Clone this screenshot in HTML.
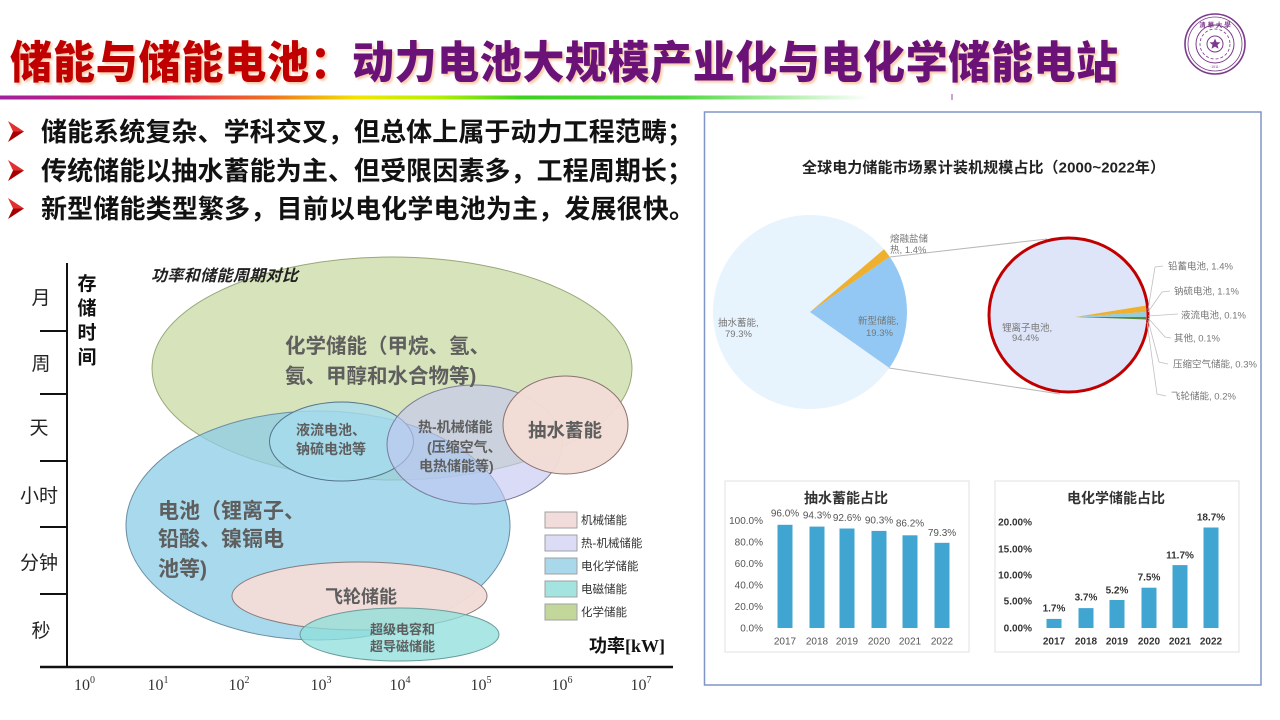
<!DOCTYPE html>
<html><head><meta charset="utf-8">
<style>
html,body{margin:0;padding:0;background:#fff;}
body{width:1280px;height:720px;overflow:hidden;}
svg{display:block;}
text{font-family:"Liberation Sans","Noto Sans CJK SC",sans-serif;}
.serif{font-family:"Liberation Serif","Noto Serif CJK SC",serif;}
.ttl{font-weight:900;font-size:42px;filter:drop-shadow(2px 2px 1px rgba(235,160,100,0.55));}
.bul{font-weight:700;font-size:26px;fill:#111;}
.in{fill:#5e5e5e;font-weight:700;}
.pl{font-size:9.5px;fill:#777;}
.bl{font-size:10px;fill:#555;}
.bb{font-size:10px;fill:#333;font-weight:700;}
</style></head>
<body>
<svg width="1280" height="720" viewBox="0 0 1280 720" xmlns="http://www.w3.org/2000/svg">
<defs>
<linearGradient id="rb" x1="0" y1="0" x2="1" y2="0">
<stop offset="0" stop-color="#a020a0"/>
<stop offset="0.18" stop-color="#e0185a"/>
<stop offset="0.31" stop-color="#f07020"/>
<stop offset="0.41" stop-color="#f2e400"/>
<stop offset="0.5" stop-color="#b8f000"/>
<stop offset="0.6" stop-color="#3cd020"/>
<stop offset="0.78" stop-color="#50d840"/>
<stop offset="1" stop-color="#ffffff"/>
</linearGradient>
</defs>

<!-- Title -->
<g transform="translate(0,78) scale(1,1.06) translate(0,-78)">
<text class="ttl" x="10" y="78" fill="#c00000" textLength="342" lengthAdjust="spacing">储能与储能电池：</text>
<text class="ttl" x="352" y="78" fill="#6a1278" textLength="766" lengthAdjust="spacing">动力电池大规模产业化与电化学储能电站</text>
</g>

<!-- rainbow line -->
<rect x="0" y="95.5" width="870" height="4" fill="url(#rb)"/>
<line x1="952" y1="94" x2="952" y2="100" stroke="#a040a0" stroke-width="1"/>

<!-- Logo -->
<g fill="none" stroke="#7b3a8c">
<circle cx="1215" cy="44" r="30" stroke-width="1.6"/>
<circle cx="1215" cy="44" r="27" stroke-width="0.8"/>
<circle cx="1215" cy="44" r="19" stroke-width="1"/>
<circle cx="1215" cy="44" r="15" stroke-width="0.8" stroke-dasharray="3 2"/>
<circle cx="1215" cy="44" r="8" stroke-width="1"/>
</g>
<polygon points="1215,38.5 1216.6,42.2 1220.5,42.4 1217.5,44.9 1218.5,48.7 1215,46.6 1211.5,48.7 1212.5,44.9 1209.5,42.4 1213.4,42.2" fill="#7b3a8c"/>
<text x="1215" y="27" text-anchor="middle" font-size="6.5" fill="#7b3a8c" font-weight="700">清 華 大 學</text>
<text x="1215" y="68" text-anchor="middle" font-size="3.5" fill="#7b3a8c">·1911·</text>

<!-- Bullets -->
<g>
<polygon points="8,121 24,131.5 13,131.5" fill="#e23030"/>
<polygon points="13,131.5 24,131.5 8,142" fill="#a80000"/>
<polygon points="8,160 24,170.5 13,170.5" fill="#e23030"/>
<polygon points="13,170.5 24,170.5 8,181" fill="#a80000"/>
<polygon points="8,198 24,208.5 13,208.5" fill="#e23030"/>
<polygon points="13,208.5 24,208.5 8,219" fill="#a80000"/>
</g>
<text class="bul" x="41" y="141" textLength="652" lengthAdjust="spacing">储能系统复杂、学科交叉，但总体上属于动力工程范畴；</text>
<text class="bul" x="41" y="180" textLength="652" lengthAdjust="spacing">传统储能以抽水蓄能为主、但受限因素多，工程周期长；</text>
<text class="bul" x="41" y="218" textLength="654" lengthAdjust="spacing">新型储能类型繁多，目前以电化学电池为主，发展很快。</text>

<!-- ============ LEFT CHART ============ -->
<g>
<ellipse cx="392" cy="368.5" rx="240" ry="111.5" fill="#c4d79b" fill-opacity="0.68" stroke="#98a878" stroke-width="1"/>
<ellipse cx="318" cy="525.5" rx="192" ry="114.5" fill="#8ccce6" fill-opacity="0.75" stroke="#6a8ea4" stroke-width="1"/>
<ellipse cx="341.5" cy="441.5" rx="72" ry="39.5" fill="#a6dcef" fill-opacity="0.8" stroke="#54748a" stroke-width="1"/>
<ellipse cx="474.5" cy="444.5" rx="87.5" ry="59.5" fill="#c4c6f2" fill-opacity="0.62" stroke="#7a7c98" stroke-width="1"/>
<ellipse cx="565.5" cy="425" rx="62.5" ry="49" fill="#f2dcd6" fill-opacity="0.97" stroke="#8a7070" stroke-width="1"/>
<ellipse cx="359.5" cy="596" rx="127.5" ry="34" fill="#f2dcd6" fill-opacity="0.96" stroke="#8a7a7a" stroke-width="1"/>
<ellipse cx="399.5" cy="634.5" rx="99.5" ry="26.5" fill="#8edfdb" fill-opacity="0.75" stroke="#6a9a9a" stroke-width="1"/>
</g>

<text class="in" x="285" y="353" font-size="20.5">化学储能（甲烷、氢、</text>
<text class="in" x="285" y="383" font-size="20.5">氨、甲醇和水合物等)</text>
<text class="in" x="296" y="435" font-size="14">液流电池、</text>
<text class="in" x="296" y="454" font-size="14">钠硫电池等</text>
<text class="in" x="418" y="432" font-size="14">热-机械储能</text>
<text class="in" x="427" y="452" font-size="14">(压缩空气、</text>
<text class="in" x="419" y="471" font-size="14">电热储能等)</text>
<text class="in" x="528" y="437" font-size="18.5">抽水蓄能</text>
<text class="in" x="158" y="518" font-size="21">电池（锂离子、</text>
<text class="in" x="158" y="546" font-size="21">铅酸、镍镉电</text>
<text class="in" x="158" y="576" font-size="21">池等)</text>
<text class="in" x="325" y="603" font-size="18">飞轮储能</text>
<text class="in" x="370" y="634" font-size="13">超级电容和</text>
<text class="in" x="370" y="651" font-size="13">超导磁储能</text>

<!-- axes -->
<line x1="67" y1="263" x2="67" y2="667" stroke="#111" stroke-width="2"/>
<line x1="40" y1="667" x2="673" y2="667" stroke="#111" stroke-width="2.5"/>
<g stroke="#111" stroke-width="2">
<line x1="40" y1="331" x2="67" y2="331"/>
<line x1="40" y1="394" x2="67" y2="394"/>
<line x1="40" y1="461" x2="67" y2="461"/>
<line x1="40" y1="527" x2="67" y2="527"/>
<line x1="40" y1="594" x2="67" y2="594"/>
</g>
<g font-size="19" fill="#222" text-anchor="middle">
<text x="41" y="304">月</text>
<text x="41" y="370">周</text>
<text x="39" y="434">天</text>
<text x="39" y="502">小时</text>
<text x="39" y="569">分钟</text>
<text x="41" y="637">秒</text>
</g>
<g font-size="19" font-weight="700" fill="#111" text-anchor="middle">
<text x="87" y="290">存</text>
<text x="87" y="314.5">储</text>
<text x="87" y="339">时</text>
<text x="87" y="363.5">间</text>
</g>
<text x="151" y="281" font-size="16" font-style="italic" font-weight="700" fill="#222" textLength="147" lengthAdjust="spacing">功率和储能周期对比</text>

<g class="serif" font-size="16" fill="#333" text-anchor="middle">
<text class="serif" x="84.5" y="690">10<tspan font-size="10" dy="-7">0</tspan></text>
<text class="serif" x="158" y="690">10<tspan font-size="10" dy="-7">1</tspan></text>
<text class="serif" x="239" y="690">10<tspan font-size="10" dy="-7">2</tspan></text>
<text class="serif" x="321" y="690">10<tspan font-size="10" dy="-7">3</tspan></text>
<text class="serif" x="400" y="690">10<tspan font-size="10" dy="-7">4</tspan></text>
<text class="serif" x="481" y="690">10<tspan font-size="10" dy="-7">5</tspan></text>
<text class="serif" x="562" y="690">10<tspan font-size="10" dy="-7">6</tspan></text>
<text class="serif" x="641" y="690">10<tspan font-size="10" dy="-7">7</tspan></text>
</g>
<text x="589" y="652" font-size="18" font-weight="700" fill="#111">功率<tspan class="serif" style="font-family:'Liberation Serif',serif">[kW]</tspan></text>

<!-- legend -->
<g stroke="#a0a0a0" stroke-width="1">
<rect x="545" y="512" width="32" height="16" fill="#f2dcdb"/>
<rect x="545" y="535" width="32" height="16" fill="#dcdcf6"/>
<rect x="545" y="558" width="32" height="16" fill="#a9d8ea"/>
<rect x="545" y="581" width="32" height="16" fill="#a4e4e0"/>
<rect x="545" y="604" width="32" height="16" fill="#c4d79b"/>
</g>
<g font-size="11.5" fill="#333">
<text x="581" y="524">机械储能</text>
<text x="581" y="547">热-机械储能</text>
<text x="581" y="570">电化学储能</text>
<text x="581" y="593">电磁储能</text>
<text x="581" y="616">化学储能</text>
</g>

<!-- ============ RIGHT PANEL ============ -->
<rect x="704.5" y="112" width="556.5" height="573" fill="#fff" stroke="#7f96c6" stroke-width="1.5"/>
<text x="802" y="172.5" font-size="15" font-weight="700" fill="#222" textLength="363" lengthAdjust="spacing">全球电力储能市场累计装机规模占比（2000~2022年）</text>

<!-- left pie -->
<circle cx="810" cy="312" r="97" fill="#e7f3fd"/>
<path d="M810,312 L889.7,256.8 A97,97 0 0,1 889.3,367.9 Z" fill="#92c8f3"/>
<path d="M810,312 L884,249.3 A97,97 0 0,1 889.7,256.8 Z" fill="#efb030"/>
<line x1="890" y1="257" x2="1047" y2="239" stroke="#b8b8b8" stroke-width="1"/>
<line x1="889" y1="368" x2="1060" y2="394" stroke="#b8b8b8" stroke-width="1"/>
<text class="pl" x="890" y="242">熔融盐储</text>
<text class="pl" x="890" y="253">热, 1.4%</text>
<text class="pl" x="718" y="326">抽水蓄能,</text>
<text class="pl" x="725" y="337">79.3%</text>
<text class="pl" x="858" y="324">新型储能,</text>
<text class="pl" x="866" y="336">19.3%</text>

<!-- right pie -->
<ellipse cx="1068.5" cy="315" rx="79.5" ry="77" fill="#dfe5f8"/>
<polygon points="1075,317 1146,305.5 1146,312" fill="#efb030"/>
<polygon points="1075,317 1146,312 1146,317" fill="#92cde0"/>
<polygon points="1075,317 1146,317 1146,319.5" fill="#5a8a3a"/>
<ellipse cx="1068.5" cy="315" rx="79.5" ry="77" fill="none" stroke="#c00000" stroke-width="3"/>
<text class="pl" x="1002" y="331">锂离子电池,</text>
<text class="pl" x="1012" y="341">94.4%</text>
<g fill="none" stroke="#c0c0c0" stroke-width="0.8">
<polyline points="1148,310 1155,267 1163,266"/>
<polyline points="1148,312 1162,292 1170,291"/>
<polyline points="1148,316 1178,314"/>
<polyline points="1148,318 1165,337 1171,338"/>
<polyline points="1148,320 1159,362 1168,364"/>
<polyline points="1147,322 1157,394 1166,396"/>
</g>
<text class="pl" x="1168" y="269.5">铅蓄电池, 1.4%</text>
<text class="pl" x="1174" y="294.5">钠硫电池, 1.1%</text>
<text class="pl" x="1181" y="318.5">液流电池, 0.1%</text>
<text class="pl" x="1174" y="341.5">其他, 0.1%</text>
<text class="pl" x="1173" y="367.5">压缩空气储能, 0.3%</text>
<text class="pl" x="1171" y="399.5">飞轮储能, 0.2%</text>

<!-- bar chart 1 -->
<rect x="725" y="481" width="244" height="171" fill="#fff" stroke="#e0e0e0" stroke-width="1"/>
<text x="846" y="503" font-size="14" font-weight="700" fill="#333" text-anchor="middle">抽水蓄能占比</text>
<g class="bl" text-anchor="end">
<text class="bl" x="763" y="524">100.0%</text>
<text class="bl" x="763" y="545.5">80.0%</text>
<text class="bl" x="763" y="567">60.0%</text>
<text class="bl" x="763" y="588.5">40.0%</text>
<text class="bl" x="763" y="610">20.0%</text>
<text class="bl" x="763" y="631.5">0.0%</text>
</g>
<g fill="#41a5d1">
<rect x="777.5" y="524.8" width="15" height="103.2"/>
<rect x="809.5" y="526.6" width="15" height="101.4"/>
<rect x="839.5" y="528.5" width="15" height="99.5"/>
<rect x="871.5" y="530.9" width="15" height="97.1"/>
<rect x="902.5" y="535.3" width="15" height="92.7"/>
<rect x="934.5" y="542.8" width="15" height="85.2"/>
</g>
<g text-anchor="middle">
<text class="bl" x="785" y="516.5">96.0%</text>
<text class="bl" x="817" y="518.5">94.3%</text>
<text class="bl" x="847" y="521">92.6%</text>
<text class="bl" x="879" y="523.5">90.3%</text>
<text class="bl" x="910" y="526.5">86.2%</text>
<text class="bl" x="942" y="536">79.3%</text>
<text class="bl" x="785" y="644.5">2017</text>
<text class="bl" x="817" y="644.5">2018</text>
<text class="bl" x="847" y="644.5">2019</text>
<text class="bl" x="879" y="644.5">2020</text>
<text class="bl" x="910" y="644.5">2021</text>
<text class="bl" x="942" y="644.5">2022</text>
</g>

<!-- bar chart 2 -->
<rect x="995" y="481" width="244" height="171" fill="#fff" stroke="#e0e0e0" stroke-width="1"/>
<text x="1116" y="503" font-size="14" font-weight="700" fill="#333" text-anchor="middle">电化学储能占比</text>
<g text-anchor="end">
<text class="bb" x="1032" y="525.5">20.00%</text>
<text class="bb" x="1032" y="552.5">15.00%</text>
<text class="bb" x="1032" y="578.5">10.00%</text>
<text class="bb" x="1032" y="604.5">5.00%</text>
<text class="bb" x="1032" y="631.5">0.00%</text>
</g>
<g fill="#41a5d1">
<rect x="1046.5" y="618.9" width="15" height="9.1"/>
<rect x="1078.5" y="608.1" width="15" height="19.9"/>
<rect x="1109.5" y="600" width="15" height="28"/>
<rect x="1141.5" y="587.7" width="15" height="40.3"/>
<rect x="1172.5" y="565.1" width="15" height="62.9"/>
<rect x="1203.5" y="527.5" width="15" height="100.5"/>
</g>
<g text-anchor="middle">
<text class="bb" x="1054" y="611.5">1.7%</text>
<text class="bb" x="1086" y="600.5">3.7%</text>
<text class="bb" x="1117" y="593.5">5.2%</text>
<text class="bb" x="1149" y="580.5">7.5%</text>
<text class="bb" x="1180" y="558.5">11.7%</text>
<text class="bb" x="1211" y="520.5">18.7%</text>
<text class="bb" x="1054" y="644.5">2017</text>
<text class="bb" x="1086" y="644.5">2018</text>
<text class="bb" x="1117" y="644.5">2019</text>
<text class="bb" x="1149" y="644.5">2020</text>
<text class="bb" x="1180" y="644.5">2021</text>
<text class="bb" x="1211" y="644.5">2022</text>
</g>
</svg>
</body></html>
